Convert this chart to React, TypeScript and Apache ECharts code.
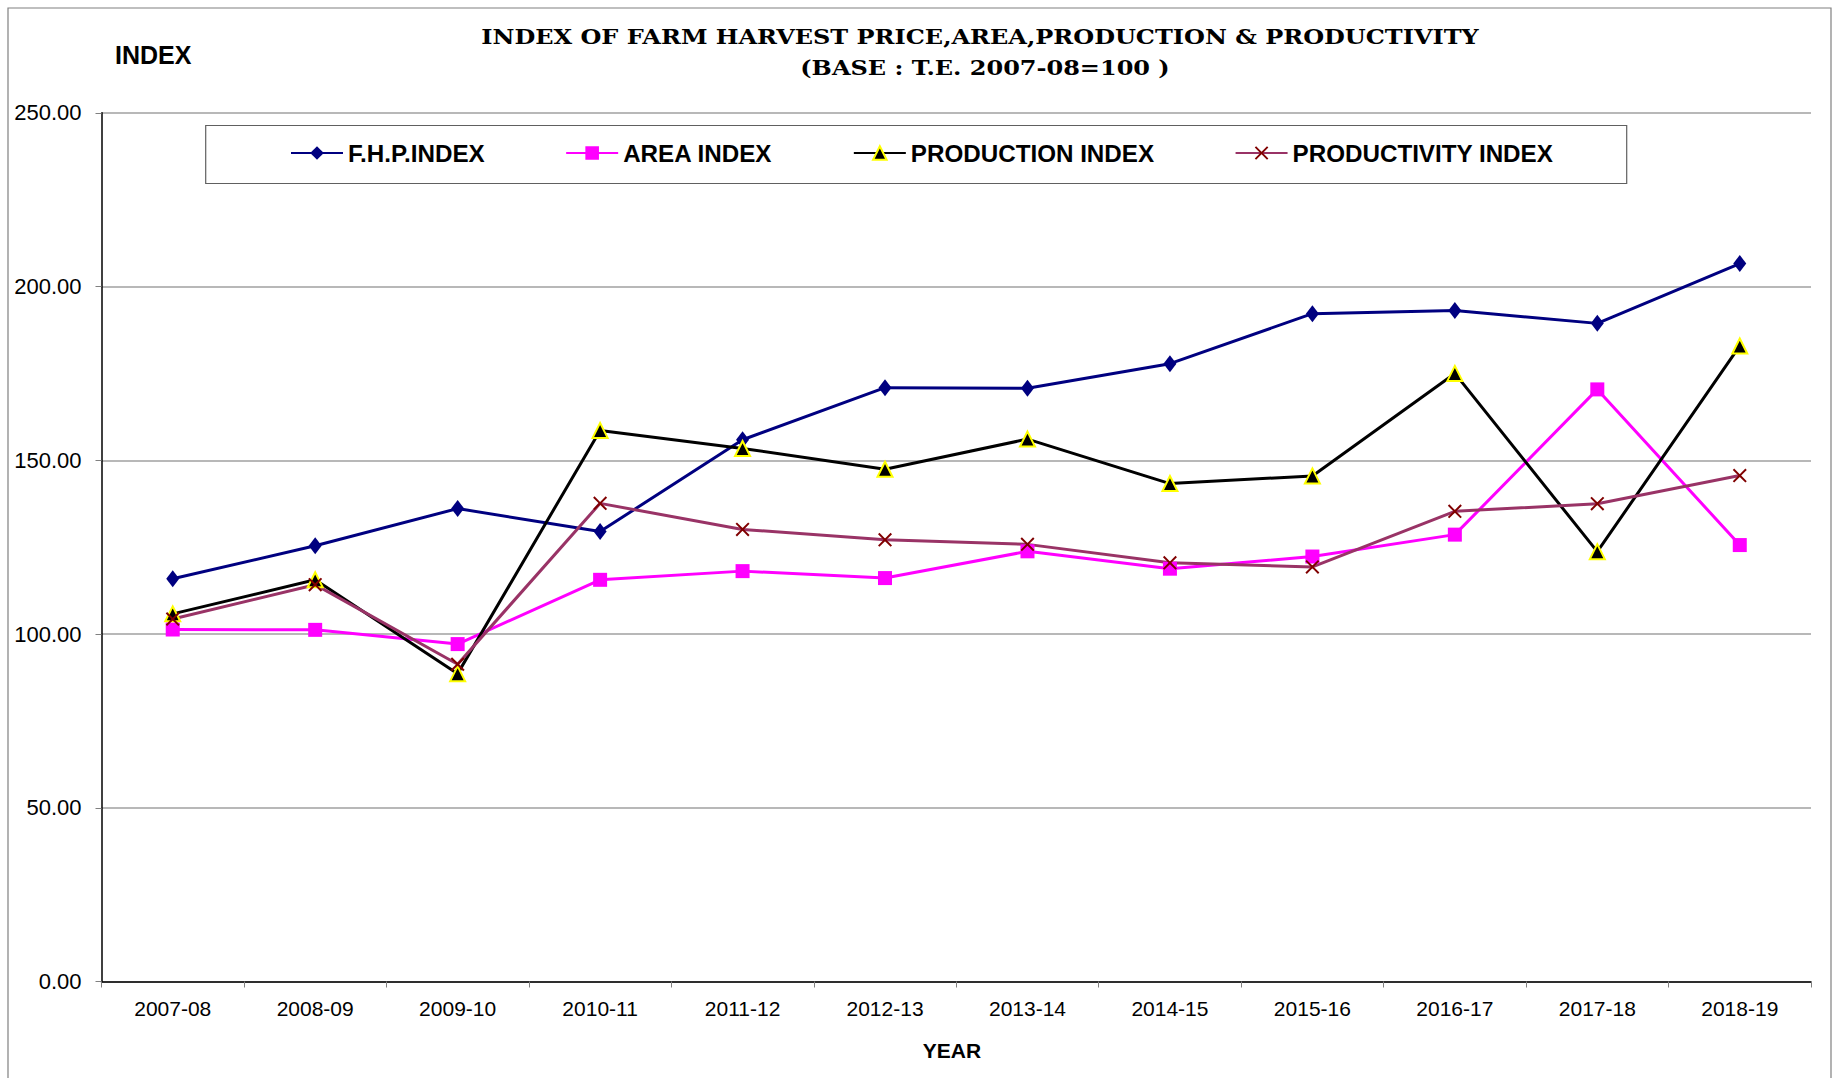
import React, { useEffect, useRef } from "react";
import * as echarts from "echarts";

const categories = ["2007-08", "2008-09", "2009-10", "2010-11", "2011-12", "2012-13", "2013-14", "2014-15", "2015-16", "2016-17", "2017-18", "2018-19"];
const fhpIndex = [115.9, 125.4, 136.1, 129.5, 155.9, 170.9, 170.7, 177.8, 192.2, 193.1, 189.4, 206.6];
const areaIndex = [101.3, 101.2, 97.1, 115.6, 118.1, 116.1, 123.8, 118.8, 122.3, 128.6, 170.4, 125.6];
const productionIndex = [105.8, 115.6, 88.6, 158.6, 153.4, 147.4, 156.1, 143.3, 145.5, 175.0, 123.7, 182.9];
const productivityIndex = [104.3, 114.2, 91.3, 137.6, 130.1, 127.1, 125.8, 120.5, 119.3, 135.3, 137.5, 145.6];
const yTicks = { min: 0, max: 250, interval: 50 };

const X_SYMBOL = "path://M1,0L5,4L9,0L10,1L6,5L10,9L9,10L5,6L1,10L0,9L4,5L0,1Z";
const SANS = "'Liberation Sans', Arial, sans-serif";

export default function App() {
  const ref = useRef<HTMLDivElement>(null);
  useEffect(() => {
    if (!ref.current) return;
    const chart = echarts.init(ref.current, undefined, { renderer: "svg" });
    chart.setOption({
      animation: false,
      backgroundColor: "#ffffff",
      grid: { left: 101.5, right: 32, top: 112.8, bottom: 96.5 },
      legend: {
        left: 290,
        top: 141,
        padding: 0,
        itemWidth: 52,
        itemHeight: 17,
        itemGap: 80.5,
        textStyle: { fontFamily: SANS, fontSize: 24.2, fontWeight: "bold", color: "#000" },
        data: ["F.H.P.INDEX", "AREA INDEX", "PRODUCTION INDEX", "PRODUCTIVITY INDEX"],
      },
      xAxis: {
        type: "category",
        data: categories,
        boundaryGap: true,
        axisLine: { show: true, lineStyle: { color: "#000", width: 1.5 } },
        axisTick: { show: true, length: 6, lineStyle: { color: "#808080", width: 1 } },
        axisLabel: { fontFamily: SANS, fontSize: 21, color: "#000", margin: 16 },
        splitLine: { show: false },
      },
      yAxis: {
        type: "value",
        min: yTicks.min,
        max: yTicks.max,
        interval: yTicks.interval,
        axisLine: { show: true, lineStyle: { color: "#000", width: 1.5 } },
        axisTick: { show: true, length: 6, lineStyle: { color: "#808080", width: 1 } },
        axisLabel: {
          fontFamily: SANS,
          fontSize: 22,
          color: "#000",
          margin: 20,
          formatter: (v: number) => v.toFixed(2),
        },
        splitLine: { show: true, lineStyle: { color: "#a0a0a0", width: 1.5 } },
      },
      series: [
        {
          name: "F.H.P.INDEX",
          type: "line",
          data: fhpIndex,
          symbol: "diamond",
          symbolSize: [13, 17],
          itemStyle: { color: "#000080" },
          lineStyle: { color: "#000080", width: 3 },
        },
        {
          name: "AREA INDEX",
          type: "line",
          data: areaIndex,
          symbol: "rect",
          symbolSize: 14,
          itemStyle: { color: "#ff00ff" },
          lineStyle: { color: "#ff00ff", width: 3 },
        },
        {
          name: "PRODUCTION INDEX",
          type: "line",
          data: productionIndex,
          symbol: "triangle",
          symbolSize: 15,
          itemStyle: { color: "#000000", borderColor: "#ffff00", borderWidth: 2 },
          lineStyle: { color: "#000000", width: 3 },
        },
        {
          name: "PRODUCTIVITY INDEX",
          type: "line",
          data: productivityIndex,
          symbol: X_SYMBOL,
          symbolSize: 14,
          itemStyle: { color: "#800000" },
          lineStyle: { color: "#993366", width: 3 },
        },
      ],
      graphic: [
        {
          type: "rect",
          shape: { x: 8, y: 8, width: 1823, height: 1090 },
          style: { fill: "none", stroke: "#808080", lineWidth: 1.2 },
          silent: true,
          z: -10,
        },
        {
          type: "rect",
          shape: { x: 205.7, y: 125.5, width: 1421, height: 58 },
          style: { fill: "#ffffff", stroke: "#606060", lineWidth: 1.2 },
          silent: true,
          z: -5,
        },
        {
          type: "text",
          x: 980,
          y: 37,
          scaleX: 1.2,
          style: {
            text: "INDEX OF FARM HARVEST PRICE,AREA,PRODUCTION & PRODUCTIVITY",
            fontFamily: "'DejaVu Serif', serif",
            fontWeight: "bold",
            fontSize: 20,
            fill: "#000",
            textAlign: "center",
            textVerticalAlign: "middle",
          },
        },
        {
          type: "text",
          x: 985,
          y: 68,
          scaleX: 1.2,
          style: {
            text: "(BASE : T.E. 2007-08=100 )",
            fontFamily: "'DejaVu Serif', serif",
            fontWeight: "bold",
            fontSize: 20,
            fill: "#000",
            textAlign: "center",
            textVerticalAlign: "middle",
          },
        },
        {
          type: "text",
          x: 115,
          y: 55,
          style: {
            text: "INDEX",
            fontFamily: SANS,
            fontWeight: "bold",
            fontSize: 25,
            fill: "#000",
            textAlign: "left",
            textVerticalAlign: "middle",
          },
        },
        {
          type: "text",
          x: 952,
          y: 1050,
          style: {
            text: "YEAR",
            fontFamily: SANS,
            fontWeight: "bold",
            fontSize: 21,
            fill: "#000",
            textAlign: "center",
            textVerticalAlign: "middle",
          },
        },
      ],
    });
    return () => chart.dispose();
  }, []);
  return (
    <div
      ref={ref}
      style={{ position: "absolute", left: 0, top: 0, width: 1843, height: 1078 }}
    />
  );
}
